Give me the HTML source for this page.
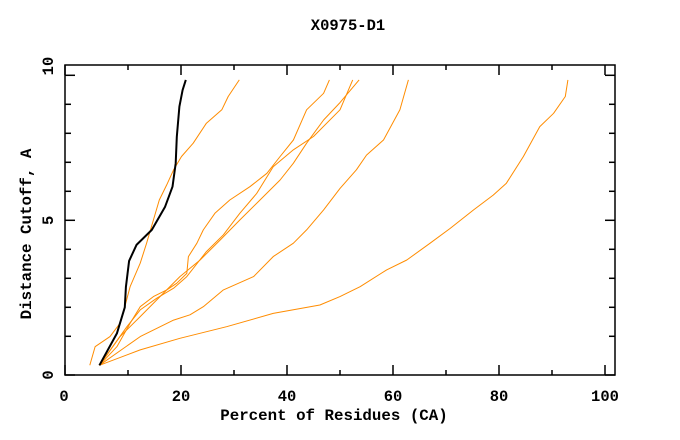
<!DOCTYPE html>
<html><head><meta charset="utf-8">
<style>
html,body{margin:0;padding:0;background:#fff;}
svg{display:block;}
text{font-family:"Liberation Mono",monospace;font-weight:bold;fill:#000;}
</style></head>
<body>
<svg id="chart" width="680" height="440" viewBox="0 0 680 440" xmlns="http://www.w3.org/2000/svg">
<rect x="0" y="0" width="680" height="440" fill="#fff"/>
<text x="348" y="30" font-size="15.5" text-anchor="middle">X0975-D1</text>
<text x="334" y="420" font-size="15.8" text-anchor="middle">Percent of Residues (CA)</text>
<text x="31" y="234" font-size="15.8" text-anchor="middle" transform="rotate(-90 31 234)">Distance Cutoff, A</text>
<g id="ticks"></g>
<g id="series"></g>
<rect x="65" y="65" width="550" height="310" fill="none" stroke="#000" stroke-width="1.5"/>
</svg>
<script>
const xTickValues = [0, 20, 40, 60, 80, 100];
const xTickLabels = ["0", "20", "40", "60", "80", "100"];
const xMinorTicks = [10, 30, 50, 70, 90];
const yTickValues = [0, 5, 10];
const yTickLabels = ["0", "5", "10"];
const yMinorTicks = [1, 2, 3, 4, 6, 7, 8, 9];

const blackX = [4.6, 7.9, 9.4, 9.6, 10.2, 11.6, 14.5, 17.0, 18.4, 19.0, 19.2, 19.7, 20.3, 20.9];
const blackY = [0, 1.1, 2.0, 2.7, 3.6, 4.15, 4.67, 5.47, 6.16, 6.97, 7.88, 8.92, 9.49, 9.84];

const aX = [2.8, 3.8, 6.6, 8.5, 9.4, 10.4, 12.3, 13.5, 14.8, 15.9, 17.3, 18.6, 20.1, 22.3, 24.8, 27.7, 28.9, 31.0];
const aY = [0, 0.64, 0.99, 1.45, 2.02, 2.71, 3.52, 4.21, 5.01, 5.70, 6.22, 6.74, 7.2, 7.66, 8.35, 8.81, 9.27, 9.84];
const bX = [4.6, 7.9, 10.4, 12.3, 14.8, 17.3, 19.2, 21.1, 21.4, 23.0, 24.2, 26.4, 29.2, 33.0, 36.2, 38.7, 41.2, 43.7, 46.9, 48.0];
const bY = [0, 0.64, 1.45, 2.02, 2.37, 2.6, 2.83, 3.17, 3.75, 4.21, 4.67, 5.24, 5.7, 6.16, 6.62, 7.2, 7.77, 8.81, 9.38, 9.84];
const cX = [4.6, 9.8, 12.3, 15.4, 18.6, 21.1, 24.8, 28.0, 31.1, 34.3, 37.4, 41.2, 45.0, 50.0, 52.4];
const cY = [0, 1.33, 1.91, 2.31, 2.66, 3.06, 3.92, 4.5, 5.24, 5.93, 6.85, 7.43, 7.89, 8.81, 9.84];
const dX = [4.6, 8.5, 12.3, 17.3, 19.8, 23.6, 27.4, 31.1, 34.9, 38.7, 41.2, 43.7, 46.9, 50.0, 53.6];
const dY = [0, 0.99, 1.68, 2.6, 3.06, 3.63, 4.32, 5.01, 5.7, 6.39, 6.97, 7.66, 8.46, 9.06, 9.84];
const eX = [4.6, 12.3, 18.6, 21.7, 24.2, 28.0, 33.7, 37.4, 41.2, 43.7, 46.9, 50.0, 53.1, 55.0, 58.2, 61.3, 62.9];
const eY = [0, 0.99, 1.56, 1.74, 2.02, 2.6, 3.06, 3.75, 4.21, 4.67, 5.36, 6.1, 6.74, 7.25, 7.77, 8.81, 9.84];
const fX = [4.6, 12.3, 19.8, 28.6, 37.4, 46.2, 50.0, 53.8, 58.8, 62.6, 67.0, 70.8, 75.2, 78.9, 81.4, 84.6, 87.7, 90.3, 92.5, 93.0];
const fY = [0, 0.53, 0.93, 1.33, 1.79, 2.08, 2.37, 2.71, 3.29, 3.63, 4.21, 4.72, 5.36, 5.87, 6.28, 7.2, 8.23, 8.69, 9.27, 9.84];

const L = 65, R = 615, T = 65, B = 375;
function xs(v){ return v === 0 ? L : 75 + v * 5.3; }
function ys(v){ return v === 0 ? B : 365.3 - v * 29; }
function px(v){ return 75 + v * 5.3; }
function py(v){ return 365.3 - v * 29; }

const NS = "http://www.w3.org/2000/svg";
const tg = document.getElementById("ticks");
function line(x1,y1,x2,y2,name){
  const l = document.createElementNS(NS,"line");
  l.setAttribute("x1",x1);l.setAttribute("y1",y1);l.setAttribute("x2",x2);l.setAttribute("y2",y2);
  l.setAttribute("stroke","#000");l.setAttribute("stroke-width","1.5");
  
  
  tg.appendChild(l);
}
xTickValues.forEach((v,i)=>{
  const x = xs(v);
  line(x,B,x,B-10,"x-major-tick");
  line(x,T,x,T+10,"x-major-tick-top");
  const t = document.createElementNS(NS,"text");
  t.setAttribute("x", v===0 ? 64 : x);
  t.setAttribute("y", 401);
  t.setAttribute("font-size","15.5");
  t.setAttribute("text-anchor","middle");
  t.textContent = xTickLabels[i];
  
  
  tg.appendChild(t);
});
xMinorTicks.forEach(v=>{
  const x = xs(v);
  line(x,B,x,B-5,"x-minor-tick");
  line(x,T,x,T+5,"x-minor-tick-top");
});
yTickValues.forEach((v,i)=>{
  const y = ys(v);
  line(L,y,L+10,y,"y-major-tick");
  line(R,y,R-10,y,"y-major-tick-right");
  const ly = v===0 ? 375 : (v===10 ? 66 : y);
  const t = document.createElementNS(NS,"text");
  t.setAttribute("x", 53);
  t.setAttribute("y", ly);
  t.setAttribute("font-size","15.5");
  t.setAttribute("text-anchor","middle");
  t.setAttribute("transform","rotate(-90 53 "+ly+")");
  t.textContent = yTickLabels[i];
  
  
  tg.appendChild(t);
});
yMinorTicks.forEach(v=>{
  const y = ys(v);
  line(L,y,L+6,y,"y-minor-tick");
  line(R,y,R-6,y,"y-minor-tick-right");
});

const sg = document.getElementById("series");
function series(xa, ya, color, w, name){
  const p = document.createElementNS(NS,"polyline");
  p.setAttribute("points", xa.map((x,i)=>px(x).toFixed(1)+","+py(ya[i]).toFixed(1)).join(" "));
  p.setAttribute("fill","none");
  p.setAttribute("stroke",color);
  p.setAttribute("stroke-width",w);
  p.setAttribute("stroke-linejoin","round");
  
  
  sg.appendChild(p);
}
series(fX,fY,"#ff8c00",1,"orange-curve-f");
series(eX,eY,"#ff8c00",1,"orange-curve-e");
series(dX,dY,"#ff8c00",1,"orange-curve-d");
series(cX,cY,"#ff8c00",1,"orange-curve-c");
series(bX,bY,"#ff8c00",1,"orange-curve-b");
series(aX,aY,"#ff8c00",1,"orange-curve-a");
series(blackX,blackY,"#000",2,"black-curve");
</script>
</body></html>
